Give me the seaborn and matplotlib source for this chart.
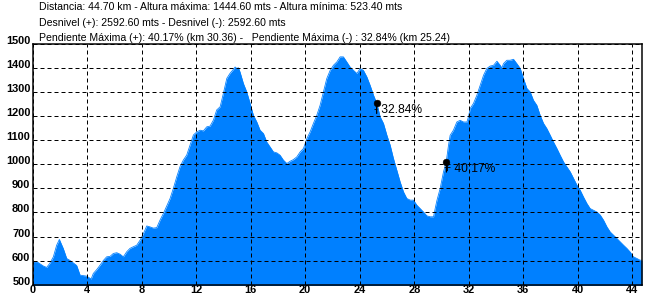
import matplotlib
matplotlib.use("Agg")
import matplotlib.pyplot as plt
import seaborn as sns
import pandas as pd

# ---- data ----
km = [0.0, 0.06, 0.31, 0.79, 1.04, 1.28, 1.53, 1.77, 1.97, 2.26, 2.51, 2.75, 3.24, 3.49,
      3.97, 4.3, 4.46, 4.71, 4.95, 5.20, 5.44, 5.69, 5.93, 6.18, 6.42, 6.66, 6.91, 7.15,
      7.40, 7.64, 7.89, 8.13, 8.38, 8.62, 8.86, 9.11, 9.35, 9.60, 9.84, 10.09, 10.33,
      10.58, 10.82, 11.06, 11.31, 11.56, 11.80, 12.05, 12.29, 12.53, 12.78, 13.02, 13.27,
      13.51, 13.76, 14.00, 14.25, 14.49, 14.73, 14.86, 14.98, 15.10, 15.22, 15.47, 15.71,
      15.96, 16.20, 16.45, 16.69, 16.94, 17.18, 17.42, 17.67, 17.92, 18.16, 18.40, 18.65,
      18.89, 19.13, 19.38, 19.63, 19.87, 20.12, 20.36, 20.60, 20.85, 21.09, 21.34, 21.58,
      21.83, 22.07, 22.32, 22.56, 22.80, 23.05, 23.29, 23.54, 23.79, 24.03, 24.27, 24.52,
      24.76, 25.01, 25.25, 25.50, 25.74, 25.99, 26.23, 26.47, 26.72, 26.96, 27.21, 27.45,
      27.70, 27.94, 28.19, 28.43, 28.67, 28.92, 29.16, 29.41, 29.53, 29.66, 29.90, 30.14,
      30.34, 30.51, 30.63, 30.87, 31.12, 31.36, 31.61, 31.86, 31.97, 32.10, 32.34, 32.59,
      32.83, 33.08, 33.32, 33.57, 33.81, 34.06, 34.30, 34.42, 34.54, 34.79, 35.03, 35.28,
      35.52, 35.77, 36.01, 36.26, 36.50, 36.74, 36.99, 37.23, 37.48, 37.72, 37.97, 38.21,
      38.46, 38.70, 38.95, 39.19, 39.44, 39.68, 39.93, 40.17, 40.41, 40.66, 40.90, 41.14,
      41.39, 41.64, 41.88, 42.13, 42.37, 42.61, 42.86, 43.10, 43.35, 43.59, 43.83, 44.07,
      44.33, 44.56, 44.70]
elev = [595, 596, 596, 578, 572, 590, 616, 664, 688, 650, 609, 601, 580, 540,
        536, 524, 547, 563, 581, 601, 616, 618, 630, 633, 627, 616, 637, 651,
        658, 664, 685, 712, 744, 740, 735, 737, 768, 796, 826, 858, 900,
        948, 990, 1017, 1038, 1080, 1121, 1134, 1141, 1138, 1155, 1158, 1183,
        1225, 1238, 1294, 1356, 1377, 1393, 1403, 1397, 1400, 1382, 1334, 1300,
        1252, 1203, 1175, 1141, 1127, 1092, 1072, 1051, 1047, 1037, 1017, 1003,
        1012, 1019, 1030, 1051, 1065, 1106, 1134, 1169, 1203, 1244, 1300, 1355,
        1389, 1410, 1424, 1445, 1445, 1424, 1403, 1389, 1376, 1397, 1389, 1362,
        1327, 1286, 1252, 1196, 1169, 1120, 1079, 1024, 975, 927, 885, 858,
        851, 851, 830, 816, 802, 786, 782, 782, 816, 850, 900, 968,
        1009, 1079, 1120, 1141, 1175, 1182, 1175, 1175, 1196, 1231, 1252, 1286,
        1327, 1369, 1397, 1407, 1410, 1427, 1410, 1399, 1417, 1431, 1431, 1435,
        1417, 1397, 1355, 1314, 1300, 1265, 1244, 1203, 1169, 1148, 1120, 1092,
        1065, 1037, 1009, 989, 968, 941, 913, 892, 864, 837, 816, 809,
        802, 789, 768, 740, 719, 706, 692, 678, 664, 651, 636, 616,
        609, 602, 602]

slope_km = [25.24, 30.36]
slope_elev = [1252, 1009]
slope_labels = ["- 32.84%", "+ 40.17%"]

x_ticks = [0, 4, 8, 12, 16, 20, 24, 28, 32, 36, 40, 44]
y_ticks = [500, 600, 700, 800, 900, 1000, 1100, 1200, 1300, 1400, 1500]

header_lines = [
    "Distancia: 44.70 km - Altura máxima: 1444.60 mts - Altura mínima: 523.40 mts",
    "Desnivel (+): 2592.60 mts - Desnivel (-): 2592.60 mts",
    "Pendiente Máxima (+): 40.17% (km 30.36) -   Pendiente Máxima (-) : 32.84% (km 25.24)",
]

# ---- style ----
sns.set_style("white")
plt.rcParams["font.family"] = ["Liberation Sans", "DejaVu Sans"]
plt.rcParams["lines.scale_dashes"] = False

W, H, DPI = 658, 300, 72
fig = plt.figure(figsize=(W / DPI, H / DPI), dpi=DPI)
fig.patch.set_facecolor("white")

x0, x1 = 32.5, 642.0
ytop, ybot = 43.6, 284.8
ax = fig.add_axes([x0 / W, 1 - ybot / H, (x1 - x0) / W, (ybot - ytop) / H])
ax.set_facecolor("white")

BLUE = "#0080ff"
df = pd.DataFrame({"km": km, "elev": elev})
ax.fill_between(df["km"], df["elev"], 480, color=BLUE, lw=0, zorder=1)
sns.lineplot(data=df, x="km", y="elev", color=BLUE, lw=0.8, ax=ax, zorder=1.5)

ax.set_xlim(0, 44.7)
ax.set_ylim(500, 1500)
ax.set_xticks(x_ticks)
ax.set_yticks(y_ticks)
ax.set_xlabel("")
ax.set_ylabel("")
ax.xaxis.label.set_visible(False)
ax.yaxis.label.set_visible(False)

ax.set_axisbelow(False)
ax.grid(True, color="black", lw=1, linestyle=(0, (4, 3)))

for s in ax.spines.values():
    s.set_visible(True)
    s.set_color("black")
    s.set_linewidth(1.5)

ax.tick_params(axis="both", length=0, labelsize=11, colors="black")
ax.tick_params(axis="y", pad=2)
ax.tick_params(axis="x", pad=0.5)
for lab in ax.get_xticklabels() + ax.get_yticklabels():
    lab.set_fontweight("bold")
for lab in ax.get_yticklabels():
    lab.set_verticalalignment("baseline")

# slope markers
sdf = pd.DataFrame({"km": slope_km, "elev": slope_elev})
sns.scatterplot(data=sdf, x="km", y="elev", color="black", s=45, edgecolor="black",
                ax=ax, zorder=5, legend=False)
ax.xaxis.label.set_visible(False)
ax.yaxis.label.set_visible(False)
for xk, ye, lab in zip(slope_km, slope_elev, slope_labels):
    ax.annotate("", xy=(xk, ye), xytext=(0, -10), textcoords="offset points",
                arrowprops=dict(arrowstyle="-", lw=1.3, color="black",
                                shrinkA=0, shrinkB=0), zorder=5)
    ax.annotate(lab, xy=(xk, ye), xytext=(-2.5, -7), textcoords="offset points",
                ha="left", va="center", fontsize=12, color="black", zorder=6)

# header text
fs = 10.5
ys = [10.3, 26.0, 40.7]
texts = []
for line, yb in zip(header_lines, ys):
    t = fig.text(39 / W, 1 - yb / H, line, ha="left", va="baseline",
                 fontsize=fs, color="black")
    texts.append(t)
fig.canvas.draw()
w = texts[0].get_window_extent().width
scale = 363.0 / w
for t in texts:
    t.set_fontsize(fs * scale)

fig.savefig("out.png", dpi=DPI, facecolor="white")
